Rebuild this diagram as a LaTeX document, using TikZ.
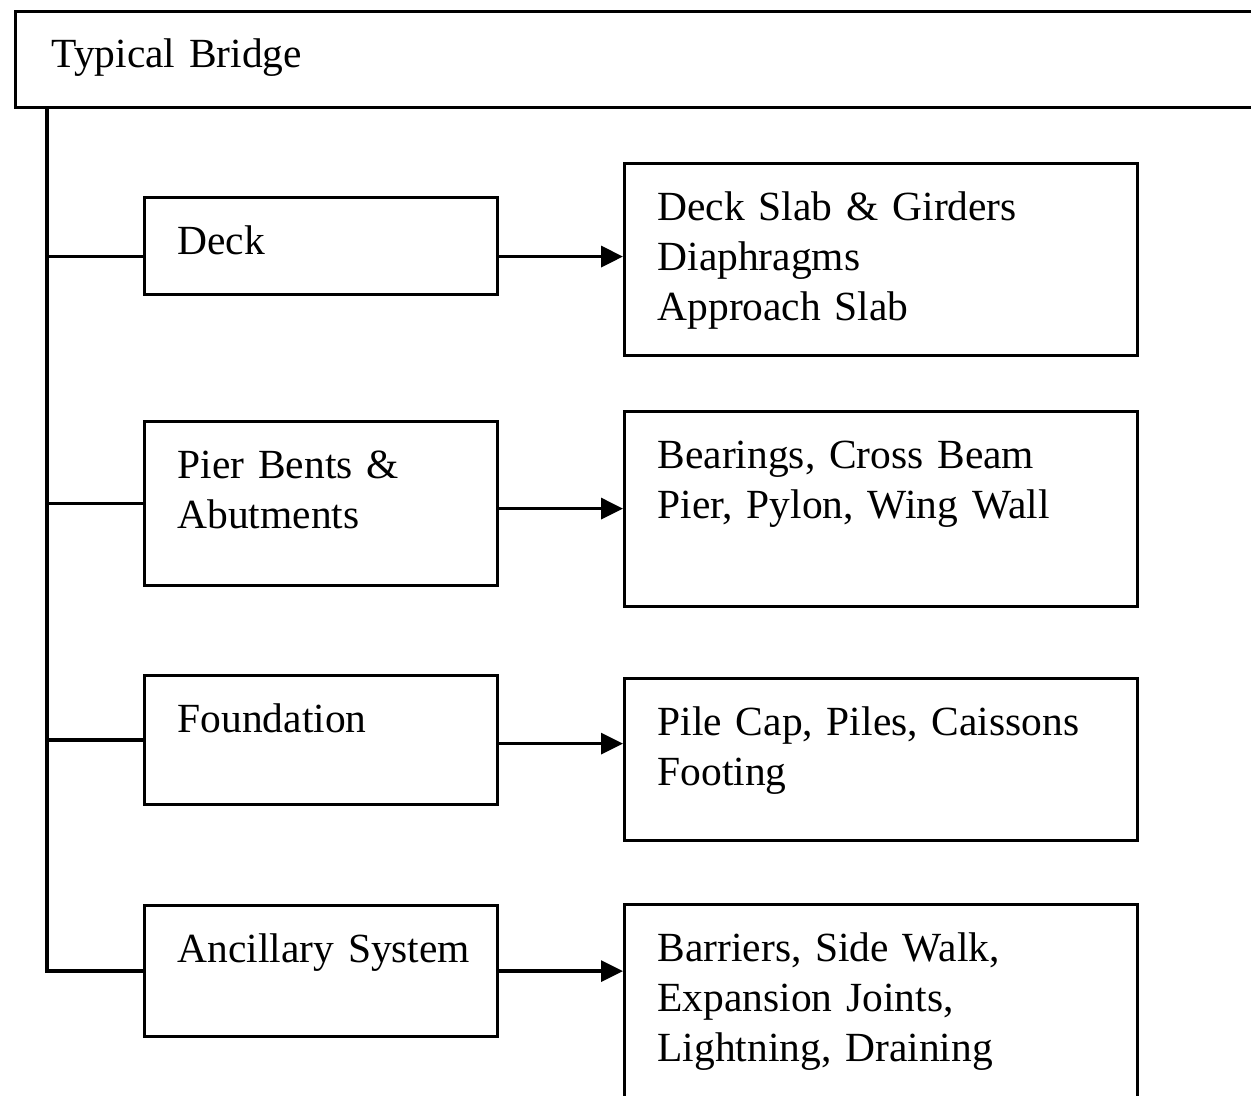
\documentclass[tikz,border=0pt]{standalone}
\usepackage{fontspec}
\setmainfont{Liberation Serif}
\usetikzlibrary{arrows.meta}

\tikzset{
  part/.style={draw, line width=1.8pt, anchor=north west, inner xsep=0.66cm,
    inner ysep=0pt, text height=1.14cm, align=left,
    font=\fontsize{23.6}{28.45}\selectfont},
  lhs/.style={part, text width=5.74cm},
  rhs/.style={part, text width=8.94cm},
  line/.style={line width=1.8pt},
  arr/.style={line width=1.8pt, -{Triangle[length=0.44cm, width=0.42cm]}}
}

\begin{document}
\begin{tikzpicture}
  %\draw[help lines] (0,0) grid (25,22);
  \useasboundingbox (0,0) rectangle (25.02,21.92);
  \clip (0,0) rectangle (25.02,21.92);

  \node[part, inner xsep=0.72cm, text width=23.9cm, text height=1.12cm, text depth=0.8cm]
    (bridge) at (0.28, 21.72) {Typical Bridge};

  \node[lhs, text depth=0.8cm] (deck) at (2.86, 18) {Deck};
  \node[lhs, text depth=2.14cm] (pier) at (2.86, 13.52) {Pier Bents \&\\Abutments};
  \node[lhs, text depth=1.44cm] (found) at (2.86, 8.44) {Foundation};
  \node[lhs, text depth=1.48cm] (ancil) at (2.86, 3.84) {\mbox{Ancillary System}};

  \node[rhs, text depth=2.7cm] (slabs) at (12.46, 18.68)
    {Deck Slab \& Girders\\Diaphragms\\Approach Slab};
  \node[rhs, text depth=2.76cm] (bearings) at (12.46, 13.72)
    {Bearings, Cross Beam\\Pier, Pylon, Wing Wall};
  \node[rhs, text depth=2.1cm] (piles) at (12.46, 8.38)
    {Pile Cap, Piles, Caissons\\Footing};
  \node[rhs, text depth=3.6cm] (barriers) at (12.46, 3.86)
    {Barriers, Side Walk,\\Expansion Joints,\\Lightning, Draining};

  % trunk and branches
  \coordinate (trunk) at ([xshift=0.66cm]bridge.south west);
  \coordinate (deckIn) at ([yshift=-0.21cm]deck.west);
  \coordinate (pierOut) at ([yshift=-0.1cm]pier.east);
  \coordinate (foundOut) at ([yshift=-0.07cm]found.east);
  \draw[line] (trunk) |- (ancil.west);
  \draw[line] (trunk |- deckIn) -- (deckIn);
  \draw[line] (trunk |- pier.west) -- (pier.west);
  \draw[line] (trunk |- found.west) -- (found.west);

  \draw[arr] (deckIn -| deck.east) -- (deckIn -| slabs.west);
  \draw[arr] (pierOut) -- (pierOut -| bearings.west);
  \draw[arr] (foundOut) -- (foundOut -| piles.west);
  \draw[arr] (ancil.east) -- (ancil.east -| barriers.west);
\end{tikzpicture}
\end{document}
